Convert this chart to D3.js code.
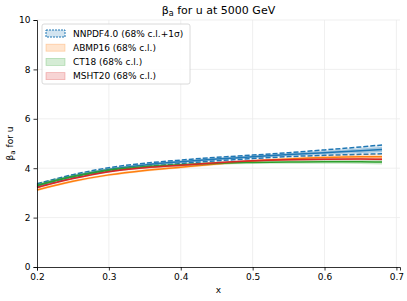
<!DOCTYPE html>
<html>
<head>
<meta charset="utf-8">
<script src="https://cdn.jsdelivr.net/npm/d3@7"></script>
<style>
  body { margin: 0; background: #fff; }
  text { font-family: "DejaVu Sans", sans-serif; }
</style>
</head>
<body>
<div class="canvas"></div>
<script>
// data
var xs = [0.2, 0.25, 0.3, 0.35, 0.4, 0.45, 0.5, 0.55, 0.6, 0.65, 0.68];

var nnpdfMid = [3.30, 3.67, 3.95, 4.13, 4.26, 4.37, 4.46, 4.55, 4.63, 4.71, 4.76];
var nnpdfErr = [0.05, 0.05, 0.05, 0.05, 0.05, 0.05, 0.05, 0.06, 0.07, 0.09, 0.10];
var nnpdfSig = [0.07, 0.07, 0.07, 0.07, 0.07, 0.07, 0.07, 0.08, 0.11, 0.15, 0.18];

var abmpMid = [3.12, 3.47, 3.73, 3.91, 4.04, 4.17, 4.29, 4.37, 4.43, 4.46, 4.46];
var abmpErr = [0.05, 0.05, 0.05, 0.05, 0.05, 0.05, 0.05, 0.06, 0.07, 0.09, 0.10];

var ctMid = [3.30, 3.66, 3.92, 4.06, 4.14, 4.20, 4.23, 4.25, 4.26, 4.26, 4.25];
var ctErr = [0.10, 0.09, 0.08, 0.07, 0.06, 0.06, 0.06, 0.07, 0.08, 0.09, 0.10];

var mshtMid = [3.22, 3.58, 3.86, 4.02, 4.12, 4.22, 4.30, 4.34, 4.36, 4.37, 4.36];
var mshtErr = [0.04, 0.04, 0.04, 0.04, 0.04, 0.04, 0.04, 0.04, 0.04, 0.05, 0.05];

var xTicks = [0.2, 0.3, 0.4, 0.5, 0.6, 0.7];
var yTicks = [0, 2, 4, 6, 8, 10];

var sets = [
  { name: "ABMP16 (68% c.l.)", mid: abmpMid, err: abmpErr, color: "#ff7f0e" },
  { name: "CT18 (68% c.l.)", mid: ctMid, err: ctErr, color: "#2ca02c" },
  { name: "MSHT20 (68% c.l.)", mid: mshtMid, err: mshtErr, color: "#d62728" }
];

var W = 407, H = 301;
var margin = { left: 37, right: 7, top: 20, bottom: 34 };

var svg = d3.select(".canvas").append("svg").attr("width", W).attr("height", H);

var x = d3.scaleLinear().domain([0.2, 0.705]).range([margin.left, W - margin.right]);
var y = d3.scaleLinear().domain([0, 10]).range([H - margin.bottom, margin.top]);

// grid
svg.append("g").selectAll("line").data(xTicks.slice(1)).join("line")
    .attr("x1", d => x(d)).attr("x2", d => x(d))
    .attr("y1", y(0)).attr("y2", y(10))
    .attr("stroke", "#ebebeb").attr("stroke-width", 0.8);
svg.append("g").selectAll("line").data(yTicks.slice(1)).join("line")
    .attr("x1", x(0.2)).attr("x2", x(0.705))
    .attr("y1", d => y(d)).attr("y2", d => y(d))
    .attr("stroke", "#ebebeb").attr("stroke-width", 0.8);

var area = function(mid, err, k) {
    return d3.area().curve(d3.curveMonotoneX)
        .x((d, i) => x(xs[i]))
        .y0((d, i) => y(mid[i] - k * err[i]))
        .y1((d, i) => y(mid[i] + k * err[i]))(mid);
};
var line = function(vals) {
    return d3.line().curve(d3.curveMonotoneX)
        .x((d, i) => x(xs[i]))
        .y(d => y(d))(vals);
};

// NNPDF: band + 1 sigma dashed
var blue = "#1f77b4";
svg.append("path").attr("d", area(nnpdfMid, nnpdfSig, 1))
    .attr("fill", blue).attr("fill-opacity", 0.15);
svg.append("path").attr("d", area(nnpdfMid, nnpdfErr, 1))
    .attr("fill", blue).attr("fill-opacity", 0.3);
svg.append("path").attr("d", line(nnpdfMid))
    .attr("fill", "none").attr("stroke", blue).attr("stroke-width", 1.5);
[1, -1].forEach(function(s) {
    svg.append("path").attr("d", line(nnpdfMid.map((v, i) => v + s * nnpdfSig[i])))
        .attr("fill", "none").attr("stroke", blue).attr("stroke-width", 1.5)
        .attr("stroke-dasharray", "5,2");
});

sets.forEach(function(s) {
    svg.append("path").attr("d", area(s.mid, s.err, 1))
        .attr("fill", s.color).attr("fill-opacity", 0.25);
    svg.append("path").attr("d", line(s.mid))
        .attr("fill", "none").attr("stroke", s.color).attr("stroke-width", 1.5);
});

// axes
var xAxis = svg.append("g").attr("transform", "translate(0," + y(0) + ")")
    .call(d3.axisBottom(x).tickValues(xTicks).tickSize(3.5).tickPadding(3).tickFormat(d3.format(".1f")));
var yAxis = svg.append("g").attr("transform", "translate(" + x(0.2) + ",0)")
    .call(d3.axisLeft(y).tickValues(yTicks).tickSize(3.5).tickPadding(3));
[xAxis, yAxis].forEach(function(a) {
    a.select(".domain").attr("stroke", "#000").attr("stroke-width", 0.8);
    a.selectAll(".tick line").attr("stroke", "#000").attr("stroke-width", 0.8);
    a.selectAll("text").attr("font-size", "9px").attr("fill", "#000")
        .attr("font-family", "DejaVu Sans, sans-serif");
});

// title and labels
svg.append("text").attr("x", (x(0.2) + x(0.705)) / 2).attr("y", 14)
    .attr("text-anchor", "middle").attr("font-size", "11px")
    .html("β<tspan font-size='8px' dy='2'>a</tspan><tspan dy='-2'> for u at 5000 GeV</tspan>");
svg.append("text").attr("x", (x(0.2) + x(0.705)) / 2).attr("y", 293)
    .attr("text-anchor", "middle").attr("font-size", "9px").text("x");
svg.append("text").attr("transform", "translate(13," + y(5) + ") rotate(-90)")
    .attr("text-anchor", "middle").attr("font-size", "9px")
    .html("β<tspan font-size='7px' dy='2'>a</tspan><tspan dy='-2'> for u</tspan>");

// legend
var leg = svg.append("g").attr("transform", "translate(42,24)");
leg.append("rect").attr("x", 0).attr("y", 0).attr("width", 148).attr("height", 60)
    .attr("rx", 2).attr("fill", "#fff").attr("fill-opacity", 0.85)
    .attr("stroke", "#d0d0d0").attr("stroke-width", 0.8);
var entries = [{ name: "NNPDF4.0 (68% c.l.+1σ)", color: blue, dashed: true }].concat(sets);
entries.forEach(function(e, i) {
    var yy = 9.5 + i * 14.2;
    leg.append("rect").attr("x", 4).attr("y", yy - 3.5).attr("width", 19).attr("height", 7)
        .attr("fill", e.color).attr("fill-opacity", 0.2)
        .attr("stroke", e.color).attr("stroke-opacity", e.dashed ? 1 : 0.3)
        .attr("stroke-width", e.dashed ? 1 : 0.8)
        .attr("stroke-dasharray", e.dashed ? "2,1" : null);
    leg.append("text").attr("x", 31).attr("y", yy + 3.2)
        .attr("font-size", "9px").text(e.name);
});
</script>
</body>
</html>
